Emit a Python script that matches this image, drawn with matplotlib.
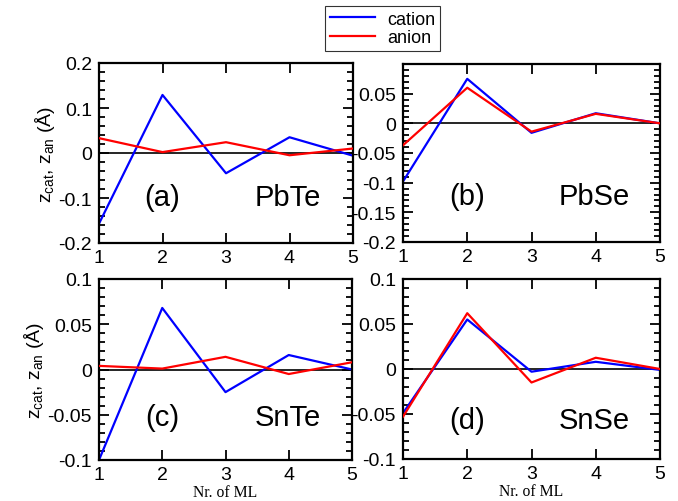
import matplotlib
matplotlib.use("Agg")
import matplotlib.pyplot as plt
from matplotlib.ticker import MultipleLocator, FixedLocator
from matplotlib.lines import Line2D

plt.rcParams['font.family'] = ['Liberation Sans', 'DejaVu Sans']
plt.rcParams['mathtext.fontset'] = 'custom'
plt.rcParams['mathtext.rm'] = 'Liberation Sans'
plt.rcParams['mathtext.it'] = 'Liberation Sans:italic'

layers = [1, 2, 3, 4, 5]

pbte_cation = [-0.157, 0.129, -0.045, 0.035, -0.006]
pbte_anion = [0.033, 0.002, 0.024, -0.005, 0.010]

pbse_cation = [-0.098, 0.075, -0.016, 0.017, 0.000]
pbse_anion = [-0.037, 0.060, -0.014, 0.016, 0.000]

snte_cation = [-0.100, 0.068, -0.025, 0.016, 0.000]
snte_anion = [0.004, 0.001, 0.014, -0.005, 0.008]

snse_cation = [-0.049, 0.055, -0.003, 0.008, -0.001]
snse_anion = [-0.053, 0.062, -0.015, 0.0125, 0.000]

panel_tags = ["(a)", "(b)", "(c)", "(d)"]
compounds = ["PbTe", "PbSe", "SnTe", "SnSe"]
series_labels = ["cation", "anion"]
ylabel_text = r"z$_{\mathrm{cat}}$, z$_{\mathrm{an}}$ (Å)"
xlabel_text = "Nr. of ML"

W, H = 678, 502
fig = plt.figure(figsize=(W / 100, H / 100), dpi=100)


def px_axes(left, top, right, bottom):
    return fig.add_axes([left / W, 1 - bottom / H, (right - left) / W, (bottom - top) / H])


panels = [
    dict(box=(99, 64, 353, 244), cat=pbte_cation, an=pbte_anion,
         ylim=(-0.2, 0.2), major=[-0.2, -0.1, 0, 0.1, 0.2],
         labels=["-0.2", "-0.1", "0", "0.1", "0.2"], minor=0.02, ty=0.255),
    dict(box=(403, 65, 660, 243), cat=pbse_cation, an=pbse_anion,
         ylim=(-0.2, 0.1), major=[-0.2, -0.15, -0.1, -0.05, 0, 0.05, 0.1],
         labels=["-0.2", "-0.15", "-0.1", "-0.05", "0", "0.05", ""], minor=0.01, ty=0.26),
    dict(box=(99, 280, 352, 461), cat=snte_cation, an=snte_anion,
         ylim=(-0.1, 0.1), major=[-0.1, -0.05, 0, 0.05, 0.1],
         labels=["-0.1", "-0.05", "0", "0.05", "0.1"], minor=0.01, ty=0.235),
    dict(box=(403, 280, 660, 460), cat=snse_cation, an=snse_anion,
         ylim=(-0.1, 0.1), major=[-0.1, -0.05, 0, 0.05, 0.1],
         labels=["-0.1", "-0.05", "0", "0.05", "0.1"], minor=0.01, ty=0.215),
]

for i, p in enumerate(panels):
    ax = px_axes(*p["box"])
    ax.axhline(0, color="black", lw=1.2, zorder=1)
    ax.plot(layers, p["cat"], color="#0000ff", lw=1.6, zorder=2)
    ax.plot(layers, p["an"], color="#ff0000", lw=1.6, zorder=3)
    ax.set_xlim(1, 5)
    ax.set_ylim(*p["ylim"])
    ax.xaxis.set_major_locator(FixedLocator(layers))
    ax.set_xticklabels([str(v) for v in layers])
    ax.yaxis.set_major_locator(FixedLocator(p["major"]))
    ax.set_yticklabels(p["labels"])
    ax.yaxis.set_minor_locator(MultipleLocator(p["minor"]))
    ax.tick_params(which="both", direction="in", top=True, right=True,
                   labelsize=14, width=1.3)
    ax.tick_params(axis="y", pad=5)
    ax.tick_params(axis="x", pad=4)
    ax.tick_params(which="major", length=7)
    ax.tick_params(which="minor", length=4)
    for s in ax.spines.values():
        s.set_linewidth(1.6)
    ax.text(0.25, p["ty"], panel_tags[i], transform=ax.transAxes, fontsize=21,
            ha="center", va="center")
    ax.text(0.745, p["ty"], compounds[i], transform=ax.transAxes, fontsize=21,
            ha="center", va="center")
    if i in (0, 2):
        ax.set_ylabel(ylabel_text, fontsize=14, labelpad=1)
    if i in (2, 3):
        ax.set_xlabel(xlabel_text, fontsize=11.3, family="Liberation Serif", labelpad=1)

handles = [Line2D([], [], color="#0000ff", lw=1.6),
           Line2D([], [], color="#ff0000", lw=1.6)]
leg = fig.legend(handles, series_labels, loc="center",
                 bbox_to_anchor=(382.5 / W, 1 - 29.5 / H), fontsize=13,
                 frameon=True, fancybox=False, edgecolor="black",
                 handlelength=2.5, handletextpad=0.7, borderpad=0.25,
                 labelspacing=0.1, borderaxespad=0)
leg.get_frame().set_linewidth(0.8)

fig.savefig("out.png", dpi=100)
